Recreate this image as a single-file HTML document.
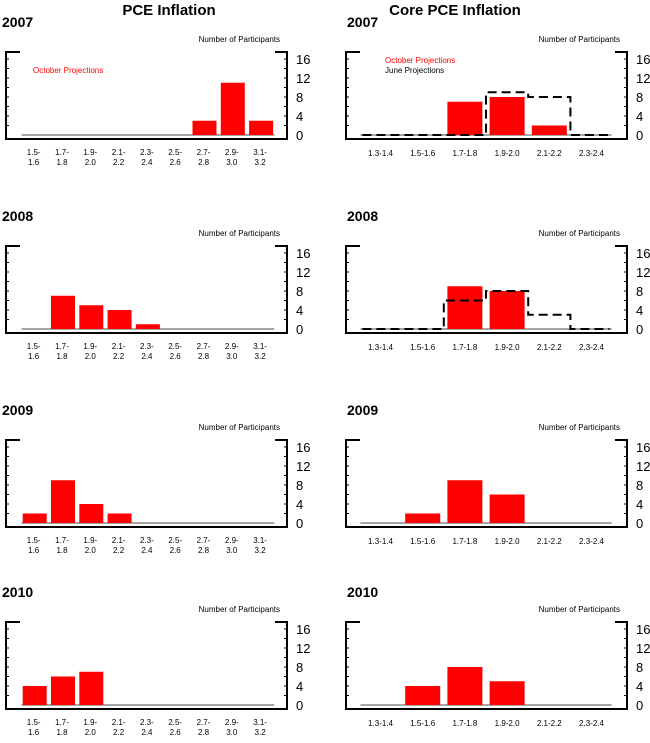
<!DOCTYPE html>
<html><head><meta charset="utf-8"><style>
body{margin:0;background:#fff;width:650px;height:738px;overflow:hidden}
svg{font-family:"Liberation Sans",Arial,sans-serif}
</style></head><body>
<svg id="c" width="650" height="738">
<text x="169" y="15" font-size="15" font-weight="bold" text-anchor="middle">PCE Inflation</text>
<text x="455" y="15" font-size="15" font-weight="bold" text-anchor="middle">Core PCE Inflation</text>
</svg>
<script>
const years=["2007","2008","2009","2010"];
const pceCats=[["1.5-","1.6"],["1.7-","1.8"],["1.9-","2.0"],["2.1-","2.2"],["2.3-","2.4"],["2.5-","2.6"],["2.7-","2.8"],["2.9-","3.0"],["3.1-","3.2"]];
const coreCats=["1.3-1.4","1.5-1.6","1.7-1.8","1.9-2.0","2.1-2.2","2.3-2.4"];
const pce2007=[0,0,0,0,0,0,3,11,3];
const pce2008=[0,7,5,4,1,0,0,0,0];
const pce2009=[2,9,4,2,0,0,0,0,0];
const pce2010=[4,6,7,0,0,0,0,0,0];
const core2007=[0,0,7,8,2,0];
const core2008=[0,0,9,8,0,0];
const core2009=[0,2,9,6,0,0];
const core2010=[0,4,8,5,0,0];
const juneCore2007=[0,0,0,9,8,0];
const juneCore2008=[0,0,6,8,3,0];
const yTicks=[0,4,8,12,16];
const offsets=[0,194,388,570];
const svg=document.getElementById('c');
const NS="http://www.w3.org/2000/svg";
function mk(t,a,p){const e=document.createElementNS(NS,t);for(const k in a)e.setAttribute(k,a[k]);(p||svg).appendChild(e);return e;}
function panel(px,oy,yr,cats,vals,june,idx,kind){
  const g=mk('g',{});
  
  
  const L=px+6,R=px+287,top=oy+52,bot=oy+139,zero=oy+135;
  const y=v=>zero-v*4.75;
  const n=cats.length;
  const step=kind==='pce'?28.3:42.2;
  const c0=kind==='pce'?px+34.7:px+40.5;
  const bw=kind==='pce'?24:35;
  const x=i=>c0+i*step;
  let t=mk('text',{x:kind==='pce'?px+2:px+7,y:oy+27,'font-size':14,'font-weight':'bold'},g);t.textContent=yr;
  
  t=mk('text',{x:R-7,y:oy+42,'font-size':8,'text-anchor':'end'},g);t.textContent='Number of Participants';
  
  mk('path',{d:`M${L+14},${top}H${L}V${bot}H${R}V${top}H${R-12}`,fill:'none',stroke:'#000','stroke-width':2},g);
  for(let v=2;v<=16;v+=2){mk('line',{x1:L,x2:L+3,y1:y(v),y2:y(v),stroke:'#000'},g);mk('line',{x1:R,x2:R-3,y1:y(v),y2:y(v),stroke:'#000'},g);}
  yTicks.forEach(v=>{const tt=mk('text',{x:R+9,y:y(v)+5,'font-size':13},g);tt.textContent=v;
    });
  mk('line',{x1:x(0)-step/2+1,x2:x(n-1)+step/2-1,y1:zero,y2:zero,stroke:'#888','stroke-width':1.5},g);
  vals.forEach((v,i)=>{if(v<=0)return;const r=mk('rect',{x:x(i)-bw/2,y:y(v),width:bw,height:v*4.75,fill:'#f00'},g);
    });
  if(june){let d='';june.forEach((v,i)=>{const a=x(i)-step/2,b=x(i)+step/2;
      d+=(i===0?`M${a+3},${y(v)}`:`L${a},${y(v)}`)+`H${i===n-1?b-3:b}`;
      if(i<n-1)d+=`V${y(june[i+1])}`;});
    const p=mk('path',{d:d,fill:'none',stroke:'#000','stroke-width':2,'stroke-dasharray':'9,5'},g);
    }
  cats.forEach((c,i)=>{if(Array.isArray(c)){c.forEach((s,k)=>{const tt=mk('text',{x:x(i)-1,y:oy+155+k*10,'font-size':8,'text-anchor':'middle'},g);tt.textContent=s;
      });}
    else{const tt=mk('text',{x:x(i),y:oy+156,'font-size':8,'text-anchor':'middle'},g);tt.textContent=c;
      }});
  if(idx===0){
    if(kind==='pce'){t=mk('text',{x:px+33,y:oy+73,'font-size':8,fill:'#f00'},g);t.textContent='October Projections';
      }
    else{t=mk('text',{x:px+45,y:oy+63,'font-size':8,fill:'#f00'},g);t.textContent='October Projections';
      
      t=mk('text',{x:px+45,y:oy+73,'font-size':8},g);t.textContent='June Projections';
      }
  }
}
const pceVals=[pce2007,pce2008,pce2009,pce2010];
const coreVals=[core2007,core2008,core2009,core2010];
const juneVals=[juneCore2007,juneCore2008,null,null];
years.forEach((yr,i)=>{panel(0,offsets[i],yr,pceCats,pceVals[i],null,i,'pce');
  panel(340,offsets[i],yr,coreCats,coreVals[i],juneVals[i],i,'core');});
</script>
</body></html>
